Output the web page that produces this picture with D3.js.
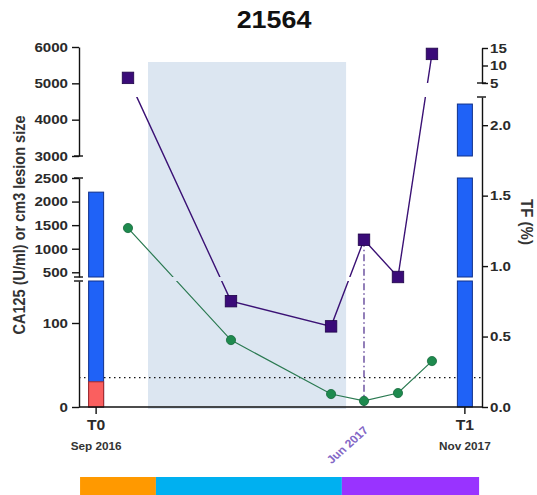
<!DOCTYPE html>
<html><head><meta charset="utf-8">
<script src="https://cdn.jsdelivr.net/npm/d3@7"></script>
<style>
html,body{margin:0;padding:0;background:#fff;}
svg{display:block;}
text{font-family:"Liberation Sans",Arial,sans-serif;}
</style></head><body>
<svg id="chart" width="537" height="495"></svg>
<script>
// Patient record
const chartTitle = "21564";
// Time axis in months from baseline (T0)
const timepoints = ["T0", "T1"];
const timepointMonths = [0, 14];
const timepointDates = ["Sep 2016", "Nov 2017"];
// Lesion size bars at the two timepoints
const lesionTotal = [2200, 4430];
const lesionRed = [30, 0];
// CA125 series (left axis)
const ca125Months = [1.21, 5.12, 8.92, 10.17, 11.46, 12.75];
const ca125Values = [5150, 126, 96, 1190, 400, 5810];
// TF series (right axis)
const tfMonths = [1.21, 5.12, 8.92, 10.17, 11.46, 12.75];
const tfValues = [1.27, 0.475, 0.092, 0.043, 0.099, 0.326];
// Marked sample date
const markerIndex = 3;
const markerLabel = "Jun 2017";
// Treatment window shading (months)
const shadedWindow = [1.97, 9.49];
// Treatment phases in the strip below
const phaseStarts = [-0.61, 2.27, 9.33];
const phaseEnds = [2.27, 9.33, 14.54];
const phaseColors = ["#ff9900", "#00b0f0", "#9933ff"];
// CA125 upper reference limit
const ca125Limit = 35;
// Broken axis segments and ticks
const leftSegLow = [0, 150];
const leftSegMid = [400, 2500];
const leftSegHigh = [3000, 6000];
const leftTicksLow = [0, 100];
const leftTicksMid = [500, 1000, 1500, 2000, 2500];
const leftTicksHigh = [3000, 4000, 5000, 6000];
const rightSegLow = [0, 2.2];
const rightSegHigh = [5, 15];
const rightTicksLow = [0.0, 0.5, 1.0, 1.5, 2.0];
const rightTicksHigh = [5, 10, 15];

const svg = d3.select("#chart");
const SX = 1.12;           // horizontal text stretch
const axL = 79, axR = 482, axY = 407;

const x = d3.scaleLinear().domain([-0.65, 14.65]).range([axL, axR]);

// left (CA125 / lesion size) broken scale
const leftSegs = [
  d3.scaleLinear().domain(leftSegLow).range([axY, 281]),
  d3.scaleLinear().domain(leftSegMid).range([277, 178]),
  d3.scaleLinear().domain(leftSegHigh).range([156, 47])
];
function yL(v) {
  for (const s of leftSegs) {
    const d = s.domain();
    if (v >= d[0] && v <= d[1]) return s(v);
  }
  for (let i = 0; i < leftSegs.length - 1; i++) {
    const a = leftSegs[i].domain(), b = leftSegs[i + 1].domain();
    if (v > a[1] && v < b[0]) return (v - a[1]) < (b[0] - v) ? leftSegs[i](a[1]) : leftSegs[i + 1](b[0]);
  }
  return leftSegs[leftSegs.length - 1](v);
}
// right (TF %) broken scale
const rightSegs = [
  d3.scaleLinear().domain(rightSegLow).range([axY, 97]),
  d3.scaleLinear().domain(rightSegHigh).range([83, 48])
];
function yR(v) {
  for (const s of rightSegs) {
    const d = s.domain();
    if (v >= d[0] && v <= d[1]) return s(v);
  }
  return rightSegs[0](v);
}

// title
svg.append("text")
  .attr("transform", `translate(274,28) scale(${SX},1)`)
  .attr("text-anchor", "middle")
  .attr("font-size", 24).attr("font-weight", "bold").attr("fill", "#111")
  .text(chartTitle);

// treatment window shading
svg.append("rect")
  .attr("x", x(shadedWindow[0])).attr("y", 62)
  .attr("width", x(shadedWindow[1]) - x(shadedWindow[0]))
  .attr("height", 409 - 62)
  .attr("fill", "#dce6f1");

// reference limit
svg.append("line")
  .attr("x1", axL).attr("x2", axR)
  .attr("y1", yL(ca125Limit)).attr("y2", yL(ca125Limit))
  .attr("stroke", "#111").attr("stroke-width", 1.3)
  .attr("stroke-dasharray", "1.5,3.5");

// lesion bars, split by the left axis breaks
const barW = 15;
function drawBarPiece(xc, lo, hi, fill, stroke) {
  leftSegs.forEach(s => {
    const d = s.domain();
    const a = Math.max(lo, d[0]), b = Math.min(hi, d[1]);
    if (b > a) {
      svg.append("rect")
        .attr("x", xc - barW / 2).attr("width", barW)
        .attr("y", s(b)).attr("height", s(a) - s(b))
        .attr("fill", fill).attr("stroke", stroke).attr("stroke-width", 1);
    }
  });
}
timepointMonths.forEach((m, i) => {
  drawBarPiece(x(m), 0, lesionTotal[i], "#1f62f7", "#10308a");
  if (lesionRed[i] > 0) drawBarPiece(x(m), 0, lesionRed[i], "#fa5f5f", "#a52a2a");
});

// line clipping across the axis breaks
const clip = svg.append("defs").append("clipPath").attr("id", "breakClip");
[[0, 83], [97, 277], [281, 495]].forEach(([a, b]) =>
  clip.append("rect").attr("x", 0).attr("width", 537).attr("y", a).attr("height", b - a));

// marker date drop line
svg.append("line")
  .attr("x1", x(ca125Months[markerIndex])).attr("x2", x(ca125Months[markerIndex]))
  .attr("y1", yL(ca125Values[markerIndex])).attr("y2", axY)
  .attr("stroke", "#4a2a8a").attr("stroke-width", 1.2)
  .attr("stroke-dasharray", "7,3,1.5,3");

// TF line
const tfLine = d3.line().x((d, i) => x(tfMonths[i])).y(d => yR(d));
svg.append("path").datum(tfValues)
  .attr("d", tfLine).attr("fill", "none")
  .attr("stroke", "#2b7a52").attr("stroke-width", 1.2)
  .attr("clip-path", "url(#breakClip)");

// CA125 line
const caLine = d3.line().x((d, i) => x(ca125Months[i])).y(d => yL(d));
svg.append("path").datum(ca125Values)
  .attr("d", caLine).attr("fill", "none")
  .attr("stroke", "#3b1275").attr("stroke-width", 1.4)
  .attr("clip-path", "url(#breakClip)");

// TF markers
svg.selectAll(".tfpt").data(tfValues).join("circle")
  .attr("cx", (d, i) => x(tfMonths[i])).attr("cy", d => yR(d))
  .attr("r", 4.6).attr("fill", "#1e8a4e").attr("stroke", "#176a3c").attr("stroke-width", 0.8);

// CA125 markers
const sq = 11.5;
svg.selectAll(".capt").data(ca125Values).join("rect")
  .attr("x", (d, i) => x(ca125Months[i]) - sq / 2).attr("y", d => yL(d) - sq / 2)
  .attr("width", sq).attr("height", sq)
  .attr("fill", "#3a0b78").attr("stroke", "#1f0448").attr("stroke-width", 0.8);

// axes
function styleAxis(g) {
  g.select(".domain").attr("stroke", "#111").attr("stroke-width", 1.4);
  g.selectAll(".tick line").attr("stroke", "#111").attr("stroke-width", 1.4);
  g.selectAll(".tick text")
    .attr("font-size", 13.5).attr("font-weight", "bold").attr("fill", "#2a2a2a")
    .attr("font-family", "Liberation Sans, Arial, sans-serif")
    .each(function () {
      const t = d3.select(this);
      t.attr("x", (+t.attr("x") || 0) / SX).attr("transform", `scale(${SX},1)`);
    });
}
const leftTicks = [leftTicksLow, leftTicksMid, leftTicksHigh];
leftSegs.forEach((s, i) => {
  const g = svg.append("g").attr("transform", `translate(${axL},0)`)
    .call(d3.axisLeft(s).tickValues(leftTicks[i]).tickSize(7).tickSizeOuter(0).tickPadding(4)
      .tickFormat(d3.format("d")));
  styleAxis(g);
});
const rightTicks = [rightTicksLow, rightTicksHigh];
const rightFmt = [d3.format(".1f"), d3.format("d")];
rightSegs.forEach((s, i) => {
  const g = svg.append("g").attr("transform", `translate(${axR},0)`)
    .call(d3.axisRight(s).tickValues(rightTicks[i]).tickSize(6).tickSizeOuter(0).tickPadding(2)
      .tickFormat(rightFmt[i]));
  styleAxis(g);
});

// break caps on segment ends
function cap(xc, y) {
  svg.append("line").attr("x1", xc - 5).attr("x2", xc + 4).attr("y1", y).attr("y2", y)
    .attr("stroke", "#111").attr("stroke-width", 1.4);
}
[281, 277, 178, 156].forEach(y => cap(axL, y));
[97, 83].forEach(y => cap(axR, y));

// x axis
svg.append("line").attr("x1", axL).attr("x2", axR).attr("y1", axY).attr("y2", axY)
  .attr("stroke", "#111").attr("stroke-width", 1.4);
timepointMonths.forEach((m, i) => {
  const xc = x(m);
  svg.append("line").attr("x1", xc).attr("x2", xc).attr("y1", axY).attr("y2", axY + 7)
    .attr("stroke", "#111").attr("stroke-width", 1.4);
  svg.append("text")
    .attr("transform", `translate(${xc},430) scale(${SX},1)`)
    .attr("text-anchor", "middle").attr("font-size", 14).attr("font-weight", "bold").attr("fill", "#2a2a2a")
    .text(timepoints[i]);
  svg.append("text")
    .attr("transform", `translate(${xc},450) scale(${SX},1)`)
    .attr("text-anchor", "middle").attr("font-size", 10.5).attr("font-weight", "bold").attr("fill", "#333")
    .text(timepointDates[i]);
});

// marker date label
svg.append("text")
  .attr("transform", `translate(${x(ca125Months[markerIndex]) + 5},431) scale(${SX},1) rotate(-45)`)
  .attr("text-anchor", "end").attr("font-size", 11).attr("font-weight", "bold").attr("fill", "#8366c6")
  .text(markerLabel);

// axis titles
svg.append("text")
  .attr("transform", `translate(19,225) scale(${SX},1) rotate(-90)`)
  .attr("text-anchor", "middle").attr("dy", "0.35em")
  .attr("font-size", 14.5).attr("font-weight", "bold").attr("fill", "#333")
  .text("CA125 (U/ml) or cm3 lesion size");
svg.append("text")
  .attr("transform", `translate(527,222) scale(${SX},1) rotate(90)`)
  .attr("text-anchor", "middle").attr("dy", "0.35em")
  .attr("font-size", 15).attr("font-weight", "bold").attr("fill", "#333")
  .text("TF (%)");

// treatment phase strip
svg.selectAll(".phase").data(phaseColors).join("rect")
  .attr("x", (d, i) => x(phaseStarts[i]))
  .attr("width", (d, i) => x(phaseEnds[i]) - x(phaseStarts[i]))
  .attr("y", 477).attr("height", 18)
  .attr("fill", d => d);
</script>
</body></html>
